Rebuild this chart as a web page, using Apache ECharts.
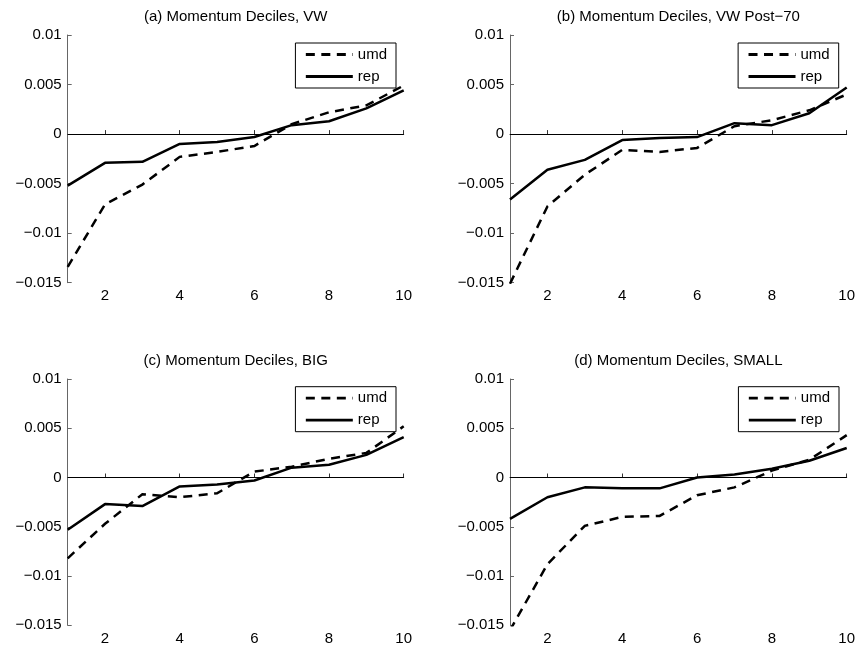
<!DOCTYPE html>
<html>
<head>
<meta charset="utf-8">
<script src="https://cdn.jsdelivr.net/npm/echarts@6/dist/echarts.min.js"></script>
<style>
html,body{margin:0;padding:0;background:#fff;}
#chart{width:859px;height:652px;}
</style>
</head>
<body>
<div id="chart"></div>
<script>
// ---- data ----
const deciles = ['1','2','3','4','5','6','7','8','9','10'];
const yTicks = [-0.015, -0.01, -0.005, 0, 0.005, 0.01];
const yTickLabels = ['\u22120.015', '\u22120.01', '\u22120.005', '0', '0.005', '0.01'];
const panelTitles = [
  '(a) Momentum Deciles, VW',
  '(b) Momentum Deciles, VW Post\u221270',
  '(c) Momentum Deciles, BIG',
  '(d) Momentum Deciles, SMALL'
];
const seriesNames = ['umd', 'rep'];

const umdA = [-0.0134, -0.0071, -0.0051, -0.0023, -0.0018, -0.0012, 0.0010, 0.0022, 0.0029, 0.0049];
const repA = [-0.0052, -0.0029, -0.0028, -0.0010, -0.0008, -0.0003, 0.0009, 0.0013, 0.0026, 0.0044];
const umdB = [-0.0151, -0.0073, -0.0041, -0.0016, -0.0018, -0.0014, 0.0008, 0.0014, 0.0024, 0.0040];
const repB = [-0.0066, -0.0036, -0.0026, -0.0006, -0.0004, -0.0003, 0.0011, 0.0009, 0.0021, 0.0047];
const umdC = [-0.0082, -0.0047, -0.0017, -0.0020, -0.0016, 0.0006, 0.0011, 0.0019, 0.0025, 0.0052];
const repC = [-0.0053, -0.0027, -0.0029, -0.0009, -0.0007, -0.0003, 0.0010, 0.0013, 0.0023, 0.0041];
const umdD = [-0.0155, -0.0088, -0.0049, -0.0040, -0.0039, -0.0018, -0.0010, 0.0007, 0.0018, 0.0043];
const repD = [-0.0042, -0.0020, -0.0010, -0.0011, -0.0011, 0.0000, 0.0003, 0.0009, 0.0017, 0.0030];

const umdData = [umdA, umdB, umdC, umdD];
const repData = [repA, repB, repC, repD];

// ---- layout ----
const FONT = "'Liberation Sans', Arial, Helvetica, sans-serif";
const FS = 15;
const LW = 2.5;
const grids = [
  {left: 67.7, top: 35, width: 336, height: 247.7},
  {left: 510, top: 35, width: 336.7, height: 247.7},
  {left: 67.7, top: 379, width: 336, height: 246.3},
  {left: 510, top: 379, width: 336.7, height: 246.3}
];
const titleTops = [9.5, 9.5, 353.2, 353.2];
const legendPos = [
  {right: 463, top: 43},
  {right: 20.3, top: 43},
  {right: 463, top: 386.7},
  {right: 20, top: 386.7}
];

function yLabel(v) {
  let best = 0;
  for (let i = 1; i < yTicks.length; i++) {
    if (Math.abs(yTicks[i] - v) < Math.abs(yTicks[best] - v)) best = i;
  }
  return yTickLabels[best];
}

const option = {
  animation: false,
  backgroundColor: '#fff',
  textStyle: {fontFamily: FONT},
  title: grids.map((g, i) => ({
    text: panelTitles[i],
    left: g.left + g.width / 2,
    top: titleTops[i],
    textAlign: 'center',
    padding: 0,
    textStyle: {fontFamily: FONT, fontSize: FS, fontWeight: 'normal', color: '#000'}
  })),
  legend: legendPos.map((p, i) => Object.assign({
    orient: 'vertical',
    data: seriesNames,
    itemWidth: 47,
    itemHeight: 14,
    itemGap: 7,
    padding: [4, 9, 4, 9],
    borderColor: '#000',
    borderWidth: 1,
    borderRadius: 0,
    backgroundColor: '#fff',
    selectedMode: false,
    itemStyle: {color: 'rgba(0,0,0,0)', borderWidth: 0, opacity: 0},
    lineStyle: {width: 2.8},
    textStyle: {fontFamily: FONT, fontSize: FS, color: '#000'}
  }, p)),
  grid: grids.map(g => Object.assign({containLabel: false}, g)),
  xAxis: grids.map((g, i) => ({
    type: 'category',
    gridIndex: i,
    data: deciles,
    boundaryGap: false,
    axisLine: {show: true, lineStyle: {color: '#333', width: 1}},
    axisTick: {show: true, inside: true, length: 4, interval: (idx) => idx % 2 === 1, lineStyle: {color: '#333'}},
    axisLabel: {show: true, margin: 6, interval: (idx) => idx % 2 === 1, fontFamily: FONT, fontSize: FS, color: '#000'},
    splitLine: {show: false}
  })),
  yAxis: grids.map((g, i) => ({
    type: 'value',
    gridIndex: i,
    min: yTicks[0],
    max: yTicks[yTicks.length - 1],
    interval: 0.005,
    axisLine: {show: true, lineStyle: {color: '#666', width: 1}},
    axisTick: {show: true, inside: true, length: 4, lineStyle: {color: '#666'}},
    axisLabel: {show: true, margin: 6, fontFamily: FONT, fontSize: FS, color: '#000', formatter: yLabel},
    splitLine: {show: false}
  })),
  series: []
};

for (let i = 0; i < 4; i++) {
  option.series.push({
    name: 'umd',
    type: 'line',
    xAxisIndex: i,
    yAxisIndex: i,
    data: umdData[i],
    symbol: 'none',
    clip: true,
    z: 3,
    lineStyle: {color: '#000', width: LW, type: [9, 6.5], cap: 'butt', join: 'miter'},
    itemStyle: {color: '#000'}
  });
  option.series.push({
    name: 'rep',
    type: 'line',
    xAxisIndex: i,
    yAxisIndex: i,
    data: repData[i],
    symbol: 'none',
    clip: true,
    z: 3,
    lineStyle: {color: '#000', width: LW, type: 'solid'},
    itemStyle: {color: '#000'},
    markLine: {
      silent: true,
      symbol: ['none', 'none'],
      label: {show: false},
      lineStyle: {color: '#000', width: 1, type: 'solid'},
      z: 2,
      data: [{yAxis: 0}]
    }
  });
}

const chart = echarts.init(document.getElementById('chart'), null, {renderer: 'canvas'});
chart.setOption(option);
</script>
</body>
</html>
